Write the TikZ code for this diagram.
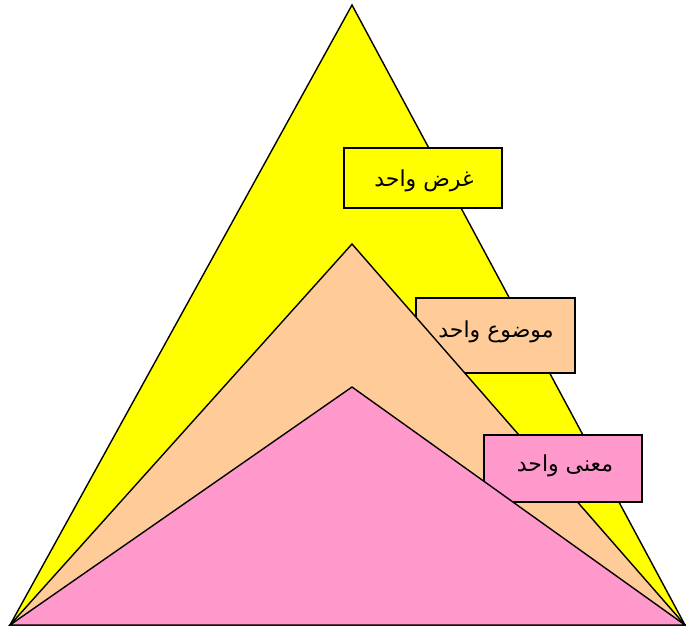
\documentclass[tikz,border=0pt]{standalone}
\usepackage{fontspec}
\newfontfamily\arabicfont[Script=Arabic]{DejaVu Sans}
\TeXXeTstate=1
\definecolor{ylw}{HTML}{FFFF00}
\definecolor{peach}{HTML}{FFCC99}
\definecolor{pinkc}{HTML}{FF99CC}
\begin{document}
\begin{tikzpicture}[x=1pt,y=-1pt,
  tri/.style={draw=black,line width=1.4pt,line join=miter},
  lbox/.style={draw=black,line width=1.4pt},
  lbl/.style={font=\arabicfont\fontsize{22}{26}\selectfont,inner sep=0pt}]
\useasboundingbox (0,0) rectangle (686,627);
% outer yellow triangle
\coordinate (L) at (10,625);
\coordinate (R) at (685,625);
\coordinate (A1) at (352,5);
\coordinate (A2) at (352,244);
\coordinate (A3) at (352,387);
\filldraw[tri,fill=ylw] (L) -- (A1) -- (R) -- cycle;
% box 1
\filldraw[lbox,fill=ylw] (344,148) rectangle (502,208);
\node[lbl] (t1) at (424,181) {\beginR غرض واحد\endR};
% box 2
\filldraw[lbox,fill=peach] (416,298) rectangle (575,373);
\filldraw[tri,fill=peach] (L) -- (A2) -- (R) -- cycle;
\node[lbl] (t2) at (496,332) {\beginR موضوع واحد\endR};
% box 3
\filldraw[lbox,fill=pinkc] (484,435) rectangle (642,502);
\filldraw[tri,fill=pinkc] (L) -- (A3) -- (R) -- cycle;
\node[lbl] (t3) at (565,466) {\beginR معنى واحد\endR};
\end{tikzpicture}
\end{document}
